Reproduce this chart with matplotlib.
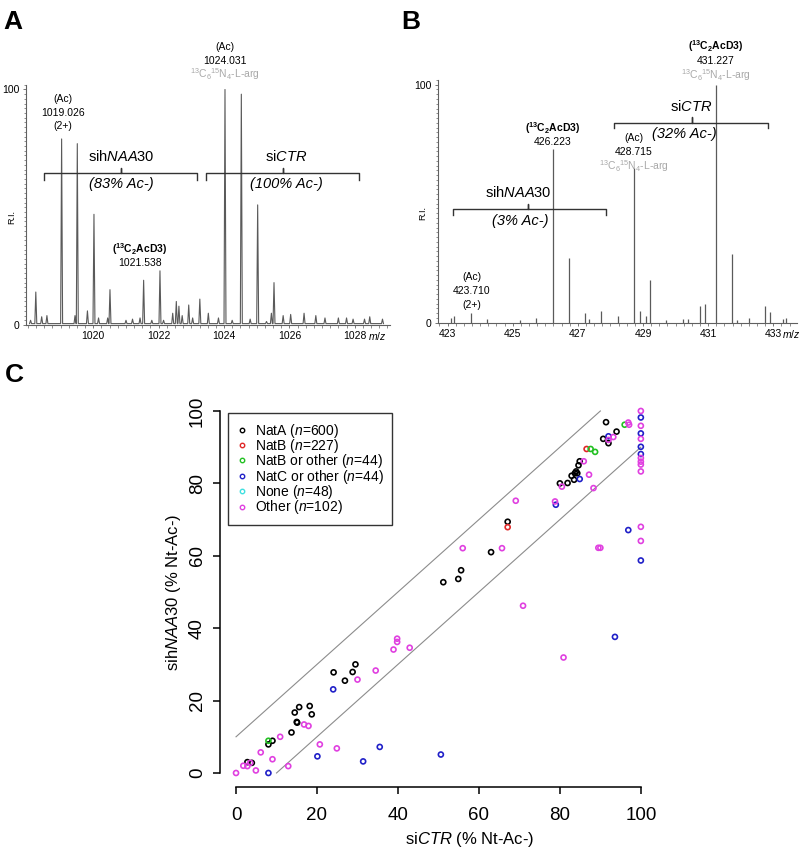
import matplotlib
matplotlib.use('Agg')
import matplotlib.pyplot as plt
from matplotlib.lines import Line2D
from matplotlib.ticker import MultipleLocator
import numpy as np

plt.rcParams['font.family'] = ['Liberation Sans', 'DejaVu Sans']
plt.rcParams['mathtext.fontset'] = 'custom'
plt.rcParams['mathtext.rm'] = 'Liberation Sans'
plt.rcParams['mathtext.it'] = 'Liberation Sans:italic'
plt.rcParams['mathtext.bf'] = 'Liberation Sans:bold'

# ---------------- data: panel A (profile spectrum, m/z vs relative intensity)
mz_a = [1018.08, 1018.24, 1018.42, 1018.58, 1019.03, 1019.44, 1019.51, 1019.82, 1020.02,
        1020.16, 1020.44, 1020.51, 1021.0, 1021.2, 1021.43, 1021.54, 1021.79, 1022.04,
        1022.15, 1022.43, 1022.54, 1022.62, 1022.72, 1022.92, 1023.04, 1023.26, 1023.52,
        1023.83, 1024.03, 1024.25, 1024.53, 1024.8, 1025.03, 1025.3, 1025.45, 1025.53,
        1025.81, 1026.04, 1026.45, 1026.81, 1027.09, 1027.5, 1027.75, 1027.95, 1028.3,
        1028.46, 1028.85]
ri_a = [2, 14, 3.5, 4, 79, 4, 77, 6, 47,
        3, 3, 15, 2, 2.5, 3, 19, 2, 23,
        2, 5, 10, 8, 4, 8.5, 3, 11, 5,
        3, 100, 2, 98, 2.5, 51, 1.5, 5, 18,
        4, 4.5, 5, 4, 3, 3, 3, 2.5, 2.5,
        3.5, 2.5]

# ---------------- data: panel B (centroid spectrum)
mz_b = [423.1, 423.2, 423.71, 424.22, 425.22, 425.71, 426.223, 426.72, 427.22, 427.34,
        427.72, 428.22, 428.715, 428.9, 429.1, 429.22, 429.72, 430.23, 430.38, 430.74,
        430.89, 431.227, 431.73, 431.87, 432.25, 432.74, 432.9, 433.3, 433.4]
ri_b = [2, 3, 4, 1.5, 1, 2, 73, 27, 4, 1.5,
        5, 3, 65, 5, 3, 18, 1, 1.5, 1.5, 7,
        8, 100, 29, 1, 2, 7, 4.5, 1.5, 2]

# ---------------- data: panel C (siCTR vs sihNAA30, % Nt-acetylation)
natA_x = [91.4, 94.0, 90.7, 92.0, 84.6, 84.9, 82.9, 83.7, 84.3, 83.5, 84.0, 80.0, 81.9,
          67.1, 63.0, 55.6, 54.9, 51.2, 29.5, 28.8, 24.1, 26.9, 15.6, 18.2, 14.5, 18.7,
          15.1, 15.0, 13.7, 8.0, 9.0, 2.8, 3.9]
natA_y = [96.9, 94.3, 92.3, 91.1, 85.0, 86.1, 82.1, 82.8, 82.8, 81.0, 83.3, 80.0, 80.1,
          69.4, 61.0, 56.0, 53.6, 52.7, 30.0, 27.9, 27.8, 25.5, 18.2, 18.5, 16.7, 16.2,
          13.9, 14.1, 11.2, 7.9, 8.9, 3.0, 2.8]
natB_x = [86.6, 67.1]
natB_y = [89.5, 67.9]
natBo_x = [87.6, 88.7, 96.0, 8.0]
natBo_y = [89.5, 88.7, 96.2, 8.9]
natCo_x = [100, 100, 100, 100, 92.0, 84.9, 79.0, 96.9, 100, 93.6, 50.6, 24.0, 20.1,
           31.4, 35.5, 8.0]
natCo_y = [98.2, 93.8, 90.1, 88.1, 93.0, 81.2, 74.1, 67.1, 58.7, 37.6, 5.1, 23.1, 4.6,
           3.2, 7.2, 0.0]
none_x = []
none_y = []
other_x = [100, 100, 100, 100, 100, 100, 100, 100, 100, 96.9, 97.1, 93.2, 92.0, 85.9,
           87.2, 88.3, 80.5, 78.8, 69.1, 56.0, 65.7, 70.9, 80.9, 89.5, 90.0, 39.8, 39.8,
           38.9, 42.9, 34.5, 30.0, 16.8, 17.9, 20.7, 24.9, 10.9, 6.1, 9.0, 12.9, 1.8,
           2.8, 3.5, 4.9, 0.0]
other_y = [100, 95.9, 92.3, 87.0, 86.0, 85.2, 83.3, 68.0, 64.1, 96.8, 96.2, 92.8, 92.0,
           86.1, 82.4, 78.7, 79.1, 75.0, 75.2, 62.1, 62.1, 46.2, 31.9, 62.2, 62.2, 37.1,
           36.2, 34.1, 34.6, 28.3, 25.8, 13.4, 13.0, 7.9, 6.8, 10.0, 5.7, 3.8, 1.9, 2.0,
           1.9, 2.8, 0.7, 0.0]
labels_c = ['NatA ($\\it{n}$=600)', 'NatB ($\\it{n}$=227)', 'NatB or other ($\\it{n}$=44)',
            'NatC or other ($\\it{n}$=44)', 'None ($\\it{n}$=48)', 'Other ($\\it{n}$=102)']
colors_c = ['black', '#e02828', '#22c022', '#2020c8', '#40e0e0', '#e040e0']
band = 10

spec_col = '#5a5a5a'
axis_col = '#606060'
grey_txt = '#a8a8a8'

fig = plt.figure(figsize=(8, 8.58), dpi=100)


def spectrum_axes(ax, xlim, majors, mz_lbl_x):
    ax.set_xlim(*xlim)
    ax.set_ylim(0, 102)
    for s in ['top', 'right']:
        ax.spines[s].set_visible(False)
    for s in ['left', 'bottom']:
        ax.spines[s].set_color(axis_col)
        ax.spines[s].set_linewidth(0.8)
    ax.spines['left'].set_bounds(0, 102)
    ax.set_yticks([0, 100])
    ax.set_yticklabels(['0', '100'], fontsize=7.5)
    ax.yaxis.set_minor_locator(MultipleLocator(2))
    ax.set_xticks(majors)
    ax.set_xticklabels([str(m) for m in majors], fontsize=7.5)
    ax.xaxis.set_minor_locator(MultipleLocator(0.25))
    ax.tick_params(axis='both', which='major', length=2.5, width=0.6, color=axis_col, pad=2)
    ax.tick_params(axis='both', which='minor', length=1.8, width=0.5, color=axis_col)
    ax.text(-0.04, 0.45, 'R.I.', rotation=90, fontsize=6.5, ha='center', va='center',
            transform=ax.transAxes)
    ax.text(mz_lbl_x, -0.045, '$m/z$', fontsize=7.5, ha='center', va='center',
            transform=ax.get_xaxis_transform(), clip_on=False)


def bracket(ax, x0, x1, xm, y, drop, rise):
    ax.plot([x0, x0, xm, xm, xm, x1, x1], [y - drop, y, y, y + rise, y, y, y - drop],
            color='#333333', lw=1.0, clip_on=False, solid_joinstyle='round')


heavy = r'$^{13}$C$_6$$^{15}$N$_4$-L-arg'
label13 = r'$\mathbf{(^{13}C_2AcD3)}$'

# ---------------- panel A
axA = fig.add_axes([0.0325, 0.6212, 0.455, 0.280])
order = np.argsort(mz_a)
w = 0.03
px, py = [], []
for i in order:
    px += [mz_a[i] - w, mz_a[i], mz_a[i] + w]
    py += [0.6, ri_a[i], 0.6]
axA.plot(px, py, color=spec_col, lw=0.8)
spectrum_axes(axA, (1017.94, 1029.08), [1020, 1022, 1024, 1026, 1028], 1028.68)

axA.text(1019.07, 90.1, '(Ac)\n1019.026\n(2+)', fontsize=7.5, ha='center', va='center',
         linespacing=1.45)
axA.text(1020.87, 71.6, 'sih$\\it{NAA30}$', fontsize=10.5, ha='center', va='center')
bracket(axA, 1018.50, 1023.17, 1020.84, 64.6, 3.0, 2.2)
axA.text(1020.87, 59.9, '(83% Ac-)', fontsize=10.5, style='italic', ha='center', va='center')
axA.text(1025.90, 71.6, 'si$\\it{CTR}$', fontsize=10.5, ha='center', va='center')
bracket(axA, 1023.44, 1028.14, 1025.80, 64.6, 3.0, 2.2)
axA.text(1025.90, 59.9, '(100% Ac-)', fontsize=10.5, style='italic', ha='center', va='center')
axA.text(1024.03, 118.0, '(Ac)', fontsize=7.5, ha='center', va='center', clip_on=False)
axA.text(1024.03, 112.0, '1024.031', fontsize=7.5, ha='center', va='center', clip_on=False)
axA.text(1024.03, 106.4, heavy, fontsize=7.5, ha='center', va='center', color=grey_txt,
         clip_on=False)
axA.text(1021.43, 32.2, label13, fontsize=7.5, ha='center', va='center')
axA.text(1021.43, 26.3, '1021.538', fontsize=7.5, ha='center', va='center')

# ---------------- panel B
axB = fig.add_axes([0.547, 0.6239, 0.449, 0.2829])
axB.vlines(mz_b, 0, ri_b, color=spec_col, lw=0.9)
spectrum_axes(axB, (422.695, 433.72), [423, 425, 427, 429, 431, 433], 433.55)

axB.text(423.74, 13.3, '(Ac)\n423.710\n(2+)', fontsize=7.5, ha='center', va='center',
         linespacing=1.45)
axB.text(426.22, 81.9, label13, fontsize=7.5, ha='center', va='center')
axB.text(426.22, 76.0, '426.223', fontsize=7.5, ha='center', va='center')
axB.text(425.16, 54.6, 'sih$\\it{NAA30}$', fontsize=10.5, ha='center', va='center')
bracket(axB, 423.155, 427.86, 425.47, 47.8, 2.6, 2.1)
axB.text(425.22, 42.9, '(3% Ac-)', fontsize=10.5, style='italic', ha='center', va='center')
axB.text(430.47, 90.9, 'si$\\it{CTR}$', fontsize=10.5, ha='center', va='center')
bracket(axB, 428.10, 432.83, 430.49, 84.1, 2.4, 2.2)
axB.text(430.28, 79.4, '(32% Ac-)', fontsize=10.5, style='italic', ha='center', va='center')
axB.text(428.72, 77.8, '(Ac)', fontsize=7.5, ha='center', va='center')
axB.text(428.72, 71.9, '428.715', fontsize=7.5, ha='center', va='center')
axB.text(428.72, 66.0, heavy, fontsize=7.5, ha='center', va='center', color=grey_txt)
axB.text(431.23, 116.1, label13, fontsize=7.5, ha='center', va='center', clip_on=False)
axB.text(431.23, 110.1, '431.227', fontsize=7.5, ha='center', va='center', clip_on=False)
axB.text(431.23, 104.2, heavy, fontsize=7.5, ha='center', va='center', color=grey_txt,
         clip_on=False)

# ---------------- panel C
axC = fig.add_axes([0.2748, 0.0822, 0.5465, 0.4557])
axC.set_xlim(-4, 104)
axC.set_ylim(-4, 104)
for s in ['top', 'right']:
    axC.spines[s].set_visible(False)
for s in ['left', 'bottom']:
    axC.spines[s].set_bounds(0, 100)
    axC.spines[s].set_linewidth(1.1)

xs = np.array([0, 100 - band])
axC.plot(xs, xs + band, color='#8c8c8c', lw=0.8)
axC.plot(xs + band, xs, color='#8c8c8c', lw=0.8)

groups = [(natA_x, natA_y), (natB_x, natB_y), (natBo_x, natBo_y),
          (natCo_x, natCo_y), (none_x, none_y), (other_x, other_y)]
for (gx, gy), col in zip(groups, colors_c):
    if gx:
        axC.scatter(gx, gy, s=13, facecolors='none', edgecolors=col, linewidths=1.2,
                    clip_on=False, zorder=3)

ticks = [0, 20, 40, 60, 80, 100]
axC.set_xticks(ticks)
axC.set_yticks(ticks)
axC.set_xticklabels([str(t) for t in ticks], fontsize=13.5)
axC.set_yticklabels([str(t) for t in ticks], fontsize=13.5, rotation=90, va='center')
axC.tick_params(axis='both', length=5, width=1.1)
axC.tick_params(axis='x', pad=9)
axC.tick_params(axis='y', pad=5)

axC.text(0.572, -0.134, 'si$\\it{CTR}$ (% Nt-Ac-)', fontsize=12, ha='center', va='center',
         transform=axC.transAxes)
axC.text(-0.107, 0.5, 'sih$\\it{NAA30}$ (% Nt-Ac-)', fontsize=12, rotation=90,
         ha='center', va='center', transform=axC.transAxes)

handles = [Line2D([], [], marker='o', ls='none', mfc='none', mec=c, ms=3.2, mew=1.0)
           for c in colors_c]
leg = axC.legend(handles, labels_c, loc='upper left', bbox_to_anchor=(0.019, 0.957),
                 borderaxespad=0, fontsize=10, frameon=True, fancybox=False,
                 handlelength=0.8, handletextpad=0.5, labelspacing=-0.19,
                 borderpad=0.6)
leg.get_frame().set_edgecolor('black')
leg.get_frame().set_linewidth(1.0)

# ---------------- panel letters
fig.text(0.004, 0.988, 'A', fontsize=19, fontweight='bold', va='top')
fig.text(0.502, 0.988, 'B', fontsize=19, fontweight='bold', va='top')
fig.text(0.006, 0.577, 'C', fontsize=19, fontweight='bold', va='top')

fig.savefig('out.png', dpi=100)
